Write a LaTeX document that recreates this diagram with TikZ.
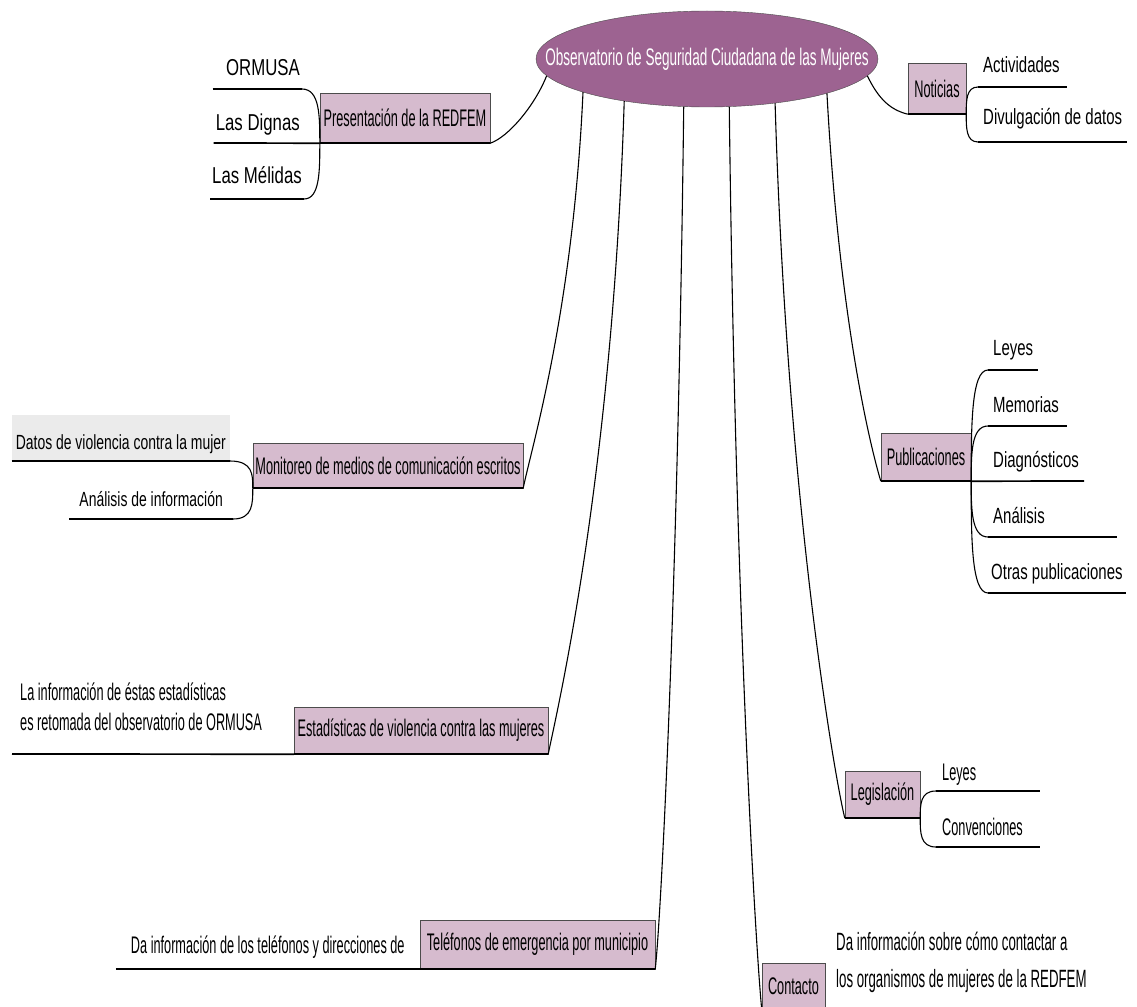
\documentclass[tikz,border=0pt]{standalone}
\usepackage{fontspec}
\usetikzlibrary{shapes.geometric, calc}
\setmainfont{Liberation Sans}
\newfontfamily\hubfont{Liberation Sans}[FakeStretch=0.565]
\newfontfamily\topicfont{Liberation Sans}[FakeStretch=0.53]
\newfontfamily\leaffont{Liberation Sans}[FakeStretch=0.68]
\newfontfamily\presfont{Liberation Sans}[FakeStretch=0.73]
\definecolor{hubfill}{HTML}{9D6391}
\definecolor{topicfill}{HTML}{D6BBCE}
\definecolor{notefill}{HTML}{EBEBEB}

\begin{document}
\begin{tikzpicture}[x=1pt, y=-1pt,
    hub/.style={ellipse, draw=black!70, fill=hubfill, text=white, inner xsep=-50pt, inner ysep=0pt,
      minimum width=342pt, minimum height=96pt, font=\hubfont\fontsize{24}{28}\selectfont},
    topic/.style={draw=black!70, fill=topicfill, inner sep=0pt, font=\topicfont\fontsize{24}{28}\selectfont},
    leaf/.style={inner xsep=5pt, inner ysep=0pt, text depth=13pt, font=\leaffont\fontsize{22}{26}\selectfont},
    pres/.style={leaf, inner xsep=2pt, font=\presfont\fontsize{23}{27}\selectfont},
    note/.style={leaf, font=\topicfont\fontsize{24}{30}\selectfont},
    link/.style={line width=1.1pt},
    uline/.style={line width=1.7pt},
    twig/.style={to path={.. controls ($(\tikztostart)!.5!(\tikztostart |- \tikztotarget)$)
      and (\tikztostart |- \tikztotarget) .. (\tikztotarget)}}]
    \useasboundingbox (0,0) rectangle (1137,1006);

    % centre and main topics
    \node[hub] (hub) at (707,59) {Observatorio de Seguridad Ciudadana de las Mujeres};
    \node[topic, minimum width=170pt, minimum height=50pt] (redfem) at (405,118) {Presentación de la REDFEM};
    \node[topic, minimum width=58pt, minimum height=51pt] (news) at (937,88.5) {Noticias};
    \node[topic, minimum width=270pt, minimum height=45pt] (mon) at (388,465.5) {Monitoreo de medios de comunicación escritos};
    \node[topic, minimum width=90pt, minimum height=48pt] (pubs) at (926,457) {Publicaciones};
    \node[topic, minimum width=254pt, minimum height=47pt] (stats) at (421,730.5) {Estadísticas de violencia contra las mujeres};
    \node[topic, minimum width=75pt, minimum height=47pt] (law) at (882.5,794.5) {Legislación};
    \node[topic, minimum width=235pt, minimum height=49pt] (phones) at (537.5,944.5) {Teléfonos de emergencia por municipio};
    \node[topic, minimum width=63pt, minimum height=47pt] (contact) at (793.5,986.5) {Contacto};

    % subtopics
    \node[pres, anchor=south east, text width=85pt, align=right] (ormusa) at (302,89) {ORMUSA};
    \node[pres, anchor=south east, text depth=12pt] (dignas) at (302,143) {Las Dignas};
    \node[pres, anchor=south east, text depth=15pt] (melidas) at (304,199) {Las Mélidas};

    \node[leaf, anchor=south west, text width=79pt, align=left, text depth=14pt] (act) at (978,87) {Actividades};
    \node[leaf, anchor=south west, text depth=17pt] (div) at (978,142) {Divulgación de datos};

    \node[leaf, anchor=south east, fill=notefill, inner xsep=4pt, text height=35pt, text depth=11pt,
      font=\leaffont\fontsize{20.5}{24}\selectfont] (datos) at (230,461) {Datos de violencia contra la mujer};
    \node[leaf, anchor=south east, inner xsep=10pt, text depth=12pt,
      font=\leaffont\fontsize{20.5}{24}\selectfont] (ana) at (233,519) {Análisis de información};

    \node[leaf, anchor=south west, text width=40pt, align=left, text depth=14pt] (pLeyes) at (988,370) {Leyes};
    \node[leaf, anchor=south west, text width=69pt, align=left] (pMem) at (988,426) {Memorias};
    \node[leaf, anchor=south west] (pDiag) at (988,481) {Diagnósticos};
    \node[leaf, anchor=south west, text width=119pt, align=left] (pAna) at (988,537) {Análisis};
    \node[leaf, anchor=south west, inner xsep=3pt] (pOtras) at (988,593) {Otras publicaciones};

    \node[note, anchor=south west, inner xsep=8pt, text depth=23pt, align=left] (statsnote) at (12,754)
      {La información de éstas estadísticas\\es retomada del observatorio de ORMUSA};

    \node[note, anchor=south west, inner xsep=6pt, text width=92pt, align=left, text depth=10pt] (lLeyes) at (936,791) {Leyes};
    \node[note, anchor=south west, inner xsep=6pt, text width=92pt, align=left, text depth=11pt] (lConv) at (936,847) {Convenciones};

    \node[note, anchor=south east, inner xsep=15pt, text depth=16pt] (phonesnote) at (phones.south west)
      {Da información de los teléfonos y direcciones de};
    \node[note, anchor=south west, inner xsep=3pt, text depth=12pt, align=left,
      font=\topicfont\fontsize{25}{37}\selectfont] (contactnote) at (833,1000)
      {Da información sobre cómo contactar a\\los organismos de mujeres de la REDFEM};

    % underlines
    \foreach \topicname in {redfem,news,mon,pubs,stats,law,phones,contact}
    \draw[uline] (\topicname.south west) -- (\topicname.south east);
    \foreach \leafname in {ormusa,melidas,act,div,datos,ana,pLeyes,pMem,pAna,pOtras,lLeyes,lConv}
    \draw[uline] (\leafname.south west) -- (\leafname.south east);
    \draw[uline] (dignas.south west) -- (redfem.south west);
    \draw[uline] (pubs.south east) -- (pDiag.south east);
    \draw[uline] (statsnote.south west) -- (stats.south west);
    \draw[uline] (phonesnote.south west) -- (phones.south west);

    % branches from the centre
    \draw[link] (hub.186) .. controls +(-12,30) and +(18,-6) .. (redfem.south east);
    \draw[link] (hub.354) .. controls +(12,25) and +(-16,-4) .. (news.south west);
    \draw[link] (hub.195) .. controls +(-10,220) and +(8,-40) .. (mon.south east);
    \draw[link] (hub.207) .. controls +(-12,380) and +(8,-40) .. (stats.south east);
    \draw[link] (hub.244) .. controls +(-6,500) and +(5,-40) .. (phones.south east);
    \draw[link] (hub.295) .. controls +(6,500) and +(-6,-60) .. (contact.south west);
    \draw[link] (hub.327) .. controls +(12,400) and +(-10,-40) .. (law.south west);
    \draw[link] (hub.344) .. controls +(12,220) and +(-12,-40) .. (pubs.south west);

    % twigs to the subtopics
    \foreach \leafname in {ormusa,melidas}
    \draw[link] (redfem.south west) to[twig] (\leafname.south east);
    \foreach \leafname in {act,div}
    \draw[link] (news.south east) to[twig] (\leafname.south west);
    \foreach \leafname in {datos,ana}
    \draw[link] (mon.south west) to[twig] (\leafname.south east);
    \foreach \leafname in {pLeyes,pMem,pAna,pOtras}
    \draw[link] (pubs.south east) to[twig] (\leafname.south west);
    \foreach \leafname in {lLeyes,lConv}
    \draw[link] (law.south east) to[twig] (\leafname.south west);
\end{tikzpicture}
\end{document}
